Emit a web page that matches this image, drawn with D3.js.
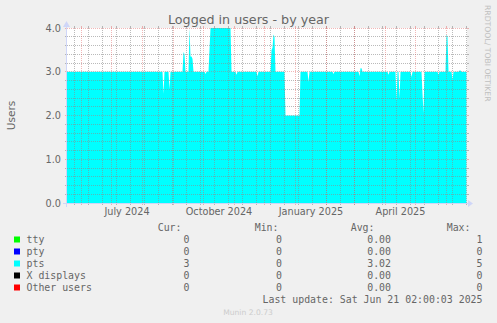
<!DOCTYPE html>
<html><head><meta charset="utf-8">
<script src="https://cdn.jsdelivr.net/npm/d3@7"></script>
<style>html,body{margin:0;padding:0;background:#F0F0F0;overflow:hidden}</style>
</head><body>
<svg id="chart" width="497" height="323"></svg>
<script>
// ---------- data ----------
const chartTitle = "Logged in users - by year";
const yAxisTitle = "Users";
const yTicks = [0, 1, 2, 3, 4];
const xLabelMonths = ["2024-07-01", "2024-10-01", "2025-01-01", "2025-04-01"];
const xLabelTexts = ["July 2024", "October 2024", "January 2025", "April 2025"];
const domainStart = "2024-05-17 12";
const domainEnd = "2025-06-21 12";
const minorGridRef = "2024-05-25";

const ptsDates = [
  "2024-05-17",
  "2024-08-21","2024-08-22","2024-08-23",
  "2024-08-27","2024-08-28","2024-08-29",
  "2024-09-10","2024-09-11","2024-09-12","2024-09-13",
  "2024-09-16","2024-09-17","2024-09-18","2024-09-19","2024-09-20","2024-09-21",
  "2024-10-02","2024-10-03","2024-10-04",
  "2024-10-06","2024-10-08","2024-10-28","2024-10-29",
  "2024-11-02","2024-11-03","2024-11-04",
  "2024-11-23","2024-11-24","2024-11-25",
  "2024-12-07","2024-12-08","2024-12-09","2024-12-10","2024-12-11","2024-12-12",
  "2024-12-21","2024-12-22","2025-01-05","2025-01-06",
  "2025-01-13","2025-01-14","2025-01-15",
  "2025-02-07","2025-02-08","2025-02-09",
  "2025-03-05","2025-03-06","2025-03-07","2025-03-08","2025-03-09",
  "2025-04-03","2025-04-04","2025-04-05",
  "2025-04-11","2025-04-12","2025-04-13","2025-04-14","2025-04-15","2025-04-16",
  "2025-04-26","2025-04-27","2025-04-28",
  "2025-05-07","2025-05-08","2025-05-09","2025-05-10",
  "2025-05-23","2025-05-24","2025-05-25",
  "2025-05-31","2025-06-01","2025-06-02","2025-06-03",
  "2025-06-06","2025-06-07","2025-06-08",
  "2025-06-13","2025-06-14","2025-06-15","2025-06-16",
  "2025-06-21"
];
const ptsValues = [
  3,
  3, 2.5, 3,
  3, 2.6, 3,
  3, 3.45, 3.4, 3,
  3, 4.0, 3.35, 3.35, 3.3, 3,
  3, 2.95, 3,
  3, 4.0, 4.0, 3,
  3, 2.93, 3,
  3, 2.9, 3,
  3, 3.5, 3.55, 3.85, 3.8, 3,
  3, 2.0, 2.0, 3,
  3, 2.77, 3,
  3, 2.95, 3,
  3, 2.9, 3.08, 3.08, 3,
  3, 2.93, 3,
  3, 2.32, 3, 3, 2.39, 3,
  3, 2.88, 3,
  3, 2.5, 2.06, 3,
  3, 2.93, 3,
  3, 3.85, 3.8, 3,
  3, 2.81, 3,
  3, 3.03, 3.03, 3,
  3
];

const legendNames = ["tty", "pty", "pts", "X displays", "Other users"];
const legendColors = ["#00FF00", "#0000FF", "#00FFFF", "#000000", "#FF0000"];
const curValues = ["0", "0", "3", "0", "0"];
const minValues = ["0", "0", "0", "0", "0"];
const avgValues = ["0.00", "0.00", "3.02", "0.00", "0.00"];
const maxValues = ["1", "0", "5", "0", "0"];
const lastUpdate = "Last update: Sat Jun 21 02:00:03 2025";
const footer = "Munin 2.0.73";
const sideText = "RRDTOOL/ TOBI OETIKER";

// ---------- drawing ----------
const svg = d3.select("#chart");
const W = 497, H = 323;
const P = {left: 67, right: 467, top: 28, bottom: 203};
const parseDay = d3.timeParse("%Y-%m-%d");
const parseHr = d3.timeParse("%Y-%m-%d %H");

const x = d3.scaleTime().domain([parseHr(domainStart), parseHr(domainEnd)]).range([P.left, P.right]);
const y = d3.scaleLinear().domain([0, 4]).range([P.bottom, P.top]);

const FONT = "'DejaVu Sans', sans-serif";
const MONO = "'DejaVu Sans Mono', monospace";
const TXT = "#666666";

svg.append("rect").attr("width", W).attr("height", H).attr("fill", "#F0F0F0");
svg.append("rect").attr("x", P.left).attr("y", P.top)
  .attr("width", P.right - P.left).attr("height", P.bottom - P.top).attr("fill", "#FFFFFF");

svg.append("clipPath").attr("id", "clip").append("rect")
  .attr("x", P.left).attr("y", P.top).attr("width", P.right - P.left).attr("height", P.bottom - P.top);

const data = ptsDates.map((d, i) => ({date: parseDay(d), value: ptsValues[i]}));
const area = d3.area().x(d => x(d.date)).y0(y(0)).y1(d => y(d.value)).curve(d3.curveLinear);
svg.append("path").datum(data).attr("clip-path", "url(#clip)")
  .attr("d", area).attr("fill", "#00FFFF");

// grid
const GRID = "rgba(140,140,140,0.6)";
const MGRID = "rgba(225,95,95,0.45)";
const g = svg.append("g").attr("shape-rendering", "crispEdges");
const px = v => Math.floor(v) + 0.5;

function hLine(val, color) {
  const yy = px(y(val));
  g.append("line").attr("x1", P.left).attr("x2", P.right).attr("y1", yy).attr("y2", yy)
    .attr("stroke", color).attr("stroke-dasharray", "1,1");
  g.append("line").attr("x1", P.left - 2).attr("x2", P.left).attr("y1", yy).attr("y2", yy).attr("stroke", color);
  g.append("line").attr("x1", P.right).attr("x2", P.right + 2).attr("y1", yy).attr("y2", yy).attr("stroke", color);
}
function vLine(date, color) {
  const xx = px(x(date));
  g.append("line").attr("x1", xx).attr("x2", xx).attr("y1", P.top).attr("y2", P.bottom)
    .attr("stroke", color).attr("stroke-dasharray", "1,1");
  g.append("line").attr("x1", xx).attr("x2", xx).attr("y1", P.top - 2).attr("y2", P.top).attr("stroke", color);
  g.append("line").attr("x1", xx).attr("x2", xx).attr("y1", P.bottom).attr("y2", P.bottom + 2).attr("stroke", color);
}

y.ticks(20).filter(v => Math.abs(v - Math.round(v)) > 1e-6).forEach(v => hLine(v, GRID));
const ref = parseDay(minorGridRef);
d3.timeSaturday.range(x.domain()[0], x.domain()[1])
  .filter(d => Math.abs(Math.round((d - ref) / (7 * 864e5))) % 2 === 0)
  .forEach(d => vLine(d, GRID));
yTicks.forEach(v => hLine(v, MGRID));
d3.timeMonth.range(x.domain()[0], x.domain()[1]).forEach(d => vLine(d, MGRID));

// axes
const AX = "#CFD6F8";
const a = svg.append("g");
a.append("line").attr("x1", P.left - 4).attr("x2", P.right + 2).attr("y1", P.bottom + 0.5).attr("y2", P.bottom + 0.5)
  .attr("stroke", AX).attr("shape-rendering", "crispEdges");
a.append("line").attr("x1", P.left - 0.5).attr("x2", P.left - 0.5).attr("y1", P.bottom + 4).attr("y2", P.top - 2)
  .attr("stroke", AX).attr("shape-rendering", "crispEdges");
a.append("path").attr("d", `M${P.right + 1},${P.bottom - 3}L${P.right + 1},${P.bottom + 4}L${P.right + 6},${P.bottom + 0.5}Z`).attr("fill", AX);
a.append("path").attr("d", `M${P.left - 4},${P.top - 1}L${P.left + 3},${P.top - 1}L${P.left - 0.5},${P.top - 7}Z`).attr("fill", AX);

// y labels
svg.append("g").selectAll("text").data(yTicks).join("text")
  .attr("x", 61).attr("y", d => y(d) + 3.5)
  .attr("text-anchor", "end").attr("font-family", FONT).attr("font-size", "9.7px").attr("fill", TXT)
  .text(d => d.toFixed(1));

// x labels (centred on the month)
svg.append("g").selectAll("text").data(xLabelMonths).join("text")
  .attr("x", (d) => { const s = parseDay(d); return (x(s) + x(d3.timeMonth.offset(s, 1))) / 2; })
  .attr("y", 215)
  .attr("text-anchor", "middle").attr("font-family", FONT).attr("font-size", "9.7px").attr("fill", TXT)
  .text((d, i) => xLabelTexts[i]);

// titles
svg.append("text").attr("x", 248.5).attr("y", 24).attr("text-anchor", "middle")
  .attr("font-family", FONT).attr("font-size", "12.7px").attr("fill", TXT).text(chartTitle);
svg.append("text").attr("transform", "translate(15,115.5) rotate(-90)").attr("text-anchor", "middle")
  .attr("font-family", FONT).attr("font-size", "10.5px").attr("fill", TXT).text(yAxisTitle);
svg.append("text").attr("transform", "translate(485.3,5) rotate(90)").attr("text-anchor", "start")
  .attr("font-family", FONT).attr("font-size", "7.7px").attr("fill", "#C0C0C0").text(sideText);

// legend
const L = svg.append("g").attr("font-family", MONO).attr("font-size", "9.9px").attr("fill", TXT);
const hdrY = 231;
[["Cur:", 181.5], ["Min:", 278.5], ["Avg:", 374.5], ["Max:", 470.5]].forEach(([t, xx]) =>
  L.append("text").attr("x", xx).attr("y", hdrY).attr("text-anchor", "end").text(t));
const colX = [189.5, 282, 391, 482.5];
legendNames.forEach((n, i) => {
  const by = 243 + i * 12;
  L.append("rect").attr("x", 14).attr("y", by - 6.5).attr("width", 6).attr("height", 6).attr("fill", legendColors[i]);
  L.append("text").attr("x", 26.5).attr("y", by).text(n);
  [curValues[i], minValues[i], avgValues[i], maxValues[i]].forEach((v, j) =>
    L.append("text").attr("x", colX[j]).attr("y", by).attr("text-anchor", "end").text(v));
});
L.append("text").attr("x", 482.5).attr("y", 303).attr("text-anchor", "end").text(lastUpdate);
svg.append("text").attr("x", 248).attr("y", 315).attr("text-anchor", "middle")
  .attr("font-family", FONT).attr("font-size", "7.6px").attr("fill", "#CCCCCC").text(footer);
</script>
</body></html>
